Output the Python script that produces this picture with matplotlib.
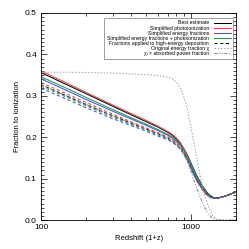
import matplotlib
matplotlib.use("Agg")
import matplotlib.pyplot as plt
from matplotlib.ticker import MultipleLocator, FixedLocator, NullFormatter

# redshift grid (1+z)
z = [100, 150, 200, 300, 400, 500, 600, 700, 750, 800, 850, 900, 950,
     1000, 1050, 1100, 1200, 1300, 1400, 1500, 1700, 2000]

best = [.356, .326, .305, .275, .254, .238, .225, .212, .205, .196, .185, .171, .156,
        .138, .121, .105, .081, .064, .055, .053, .058, .068]
photo = [.360, .330, .308, .278, .257, .241, .227, .214, .207, .198, .187, .172, .154,
         .135, .117, .101, .077, .061, .054, .053, .058, .068]
efrac = [.341, .312, .291, .263, .244, .229, .216, .205, .198, .190, .180, .166, .148,
         .130, .113, .098, .075, .060, .054, .053, .058, .068]
efrac_photo = [.346, .317, .296, .267, .247, .232, .219, .207, .201, .192, .182, .168, .153,
               .136, .120, .104, .080, .063, .055, .053, .058, .068]

# same four, with fractions applied to high-energy deposition
hi_photo = [.332, .304, .284, .256, .237, .223, .211, .201, .194, .186, .176, .162, .145,
            .126, .108, .093, .071, .057, .052, .052, .058, .068]
hi_best = [.327, .299, .279, .252, .234, .220, .209, .198, .192, .184, .174, .161, .144,
           .126, .110, .095, .074, .060, .054, .053, .058, .068]
hi_efrac_photo = [.323, .296, .276, .249, .231, .218, .206, .196, .190, .182, .173, .159, .143,
                  .125, .110, .095, .074, .060, .054, .053, .058, .068]
hi_efrac = [.318, .291, .271, .245, .228, .215, .203, .194, .188, .180, .171, .158, .141,
            .124, .108, .093, .073, .059, .053, .053, .058, .068]

chi_orig = [.357, .357, .356, .355, .353, .351, .349, .345, .341, .333, .320, .295, .265,
            .225, .185, .145, .075, .035, .010, .001, 0.0, 0.0]
chi_abs = [.327, .299, .279, .252, .234, .220, .209, .198, .192, .184, .172, .158, .140,
           .118, .095, .075, .040, .015, .004, 0.0, 0.0, 0.0]

RED = "#e04444"
BLUE = "#3a5cc8"
GREEN = "#2f8f5f"

plt.rcParams["font.family"] = ["Liberation Sans", "DejaVu Sans"]

fig = plt.figure(figsize=(2.49, 2.49), dpi=100)
ax = fig.add_axes([0.165, 0.116, 0.783, 0.832])

lw = 0.75
ax.plot(z, best, color="black", lw=lw, label="Best estimate")
ax.plot(z, photo, color=RED, lw=lw, label="Simplified photoionization")
ax.plot(z, efrac, color=BLUE, lw=lw, label="Simplified energy fractions")
ax.plot(z, efrac_photo, color=GREEN, lw=lw,
        label="Simplified energy fractions + photoionization")
ax.plot(z, hi_best, color="black", lw=lw, ls=(0, (3, 2.5)),
        label="Fractions applied to high-energy deposition")
ax.plot(z, hi_photo, color=RED, lw=lw, ls=(0, (3, 2.5)))
ax.plot(z, hi_efrac_photo, color=GREEN, lw=lw, ls=(0, (3, 2.5)))
ax.plot(z, hi_efrac, color=BLUE, lw=lw, ls=(0, (3, 2.5)))
ax.plot(z, chi_orig, color="#aaaaaa", lw=lw, ls=(0, (1.5, 1.5)),
        label="Original energy fraction χ")
ax.plot(z, chi_abs, color="#888888", lw=lw, ls=(0, (3, 1.5, 1, 1.5, 1, 1.5)),
        label="χᵢ × absorbed power fraction")

ax.set_xscale("log")
ax.set_xlim(100, 2000)
ax.set_ylim(0, 0.5)
ax.set_xlabel("Redshift (1+z)", fontsize=5.5, labelpad=3)
ax.set_ylabel("Fraction to ionization", fontsize=5.5, labelpad=3)

ax.xaxis.set_major_locator(FixedLocator([100, 1000]))
ax.xaxis.set_major_formatter(matplotlib.ticker.FixedFormatter(["100", "1000"]))
ax.xaxis.set_minor_locator(FixedLocator([200, 300, 400, 500, 600, 700, 800, 900, 2000]))
ax.xaxis.set_minor_formatter(NullFormatter())
ax.yaxis.set_major_locator(MultipleLocator(0.1))
ax.yaxis.set_minor_locator(MultipleLocator(0.01))
ax.yaxis.set_major_formatter(matplotlib.ticker.FormatStrFormatter("%.1f"))

ax.tick_params(which="both", direction="in", top=True, right=True,
               labelsize=6, width=0.5, pad=3)
ax.tick_params(which="major", length=4)
ax.tick_params(which="minor", length=2)
for s in ax.spines.values():
    s.set_linewidth(0.6)

leg = ax.legend(loc="upper right", bbox_to_anchor=(0.985, 0.976), borderaxespad=0,
                fontsize=3.7, markerfirst=False, fancybox=False, frameon=True,
                handlelength=3.2, labelspacing=0.02, handletextpad=1.0,
                borderpad=0.5)
leg.get_frame().set_edgecolor("#555555")
leg.get_frame().set_linewidth(0.5)

fig.savefig("out.png", dpi=100)
plt.close(fig)
